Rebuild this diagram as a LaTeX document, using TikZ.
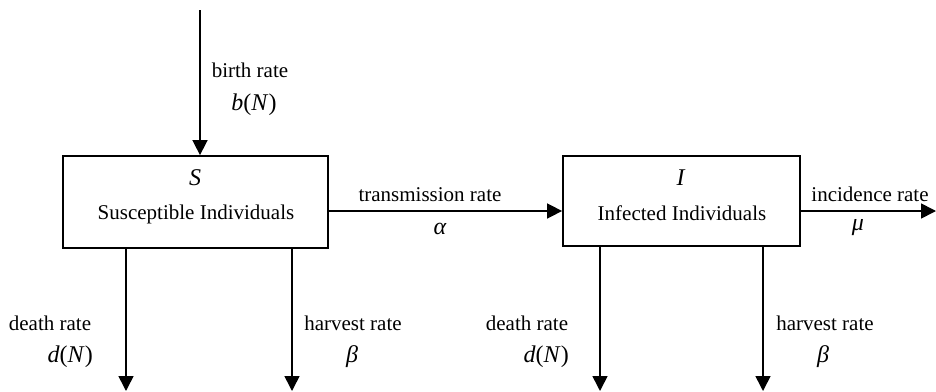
\documentclass[tikz,border=0pt]{standalone}
\usepackage{fontspec}
\setmainfont{Liberation Serif}
\usetikzlibrary{arrows.meta}
\begin{document}
\begin{tikzpicture}[x=1pt,y=-1pt,
  box/.style={draw,line width=1.8pt,inner sep=0pt},
  flow/.style={line width=1.6pt,-{Triangle[width=15pt,length=15pt]}},
  lbl/.style={font=\fontsize{21}{23}\selectfont,inner sep=0pt},
  sym/.style={font=\fontsize{24}{26}\selectfont,inner sep=0pt},
  ]
\useasboundingbox (0,0) rectangle (936,391);
\node[box,minimum width=265pt,minimum height=92pt] (S) at (195.5,202) {};
\node[box,minimum width=237pt,minimum height=90pt] (I) at (681.5,201) {};
\node[sym] (Sl) at (195,178) {\textit{S}};
\node[lbl] (Sn) at (196,214) {Susceptible Individuals};
\node[sym] (Il) at (681,178) {\textit{I}};
\node[lbl] (In) at (682,213) {Infected Individuals};
% top
\coordinate (btop) at (200,10);
\draw[flow] (btop) -- (S.north -| btop);
\node[lbl] (br) at (250,70) {birth rate};
\node[sym] (bn) at (254,105) {\textit{b}(\textit{N})};
% transmission
\draw[flow] (S.east |- 0,211) -- (I.west |- 0,211);
\node[lbl] (tr) at (430,195) {transmission rate};
\node[sym] (al) at (440,229) {\textit{α}};
% incidence
\coordinate (iend) at (936,211);
\draw[flow] (I.east |- iend) -- (iend);
\node[lbl] (ir) at (870,194) {incidence rate};
\node[sym] (mu) at (858,228) {\textit{μ}};
% S down
\coordinate (sd1) at (126,391);
\coordinate (sd2) at (292,391);
\draw[flow] (S.south -| sd1) -- (sd1);
\draw[flow] (S.south -| sd2) -- (sd2);
\node[lbl] (dr1) at (50,323) {death rate};
\node[sym,anchor=east] (dn1) at (93,357) {\textit{d}(\textit{N})};
\node[lbl] (hr1) at (353,323) {harvest rate};
\node[sym] (be1) at (352,357) {\textit{β}};
% I down
\coordinate (id1) at (600,391);
\coordinate (id2) at (763,391);
\draw[flow] (I.south -| id1) -- (id1);
\draw[flow] (I.south -| id2) -- (id2);
\node[lbl] (dr2) at (527,323) {death rate};
\node[sym,anchor=east] (dn2) at (569,357) {\textit{d}(\textit{N})};
\node[lbl] (hr2) at (825,323) {harvest rate};
\node[sym] (be2) at (823,357) {\textit{β}};
\end{tikzpicture}
\end{document}
